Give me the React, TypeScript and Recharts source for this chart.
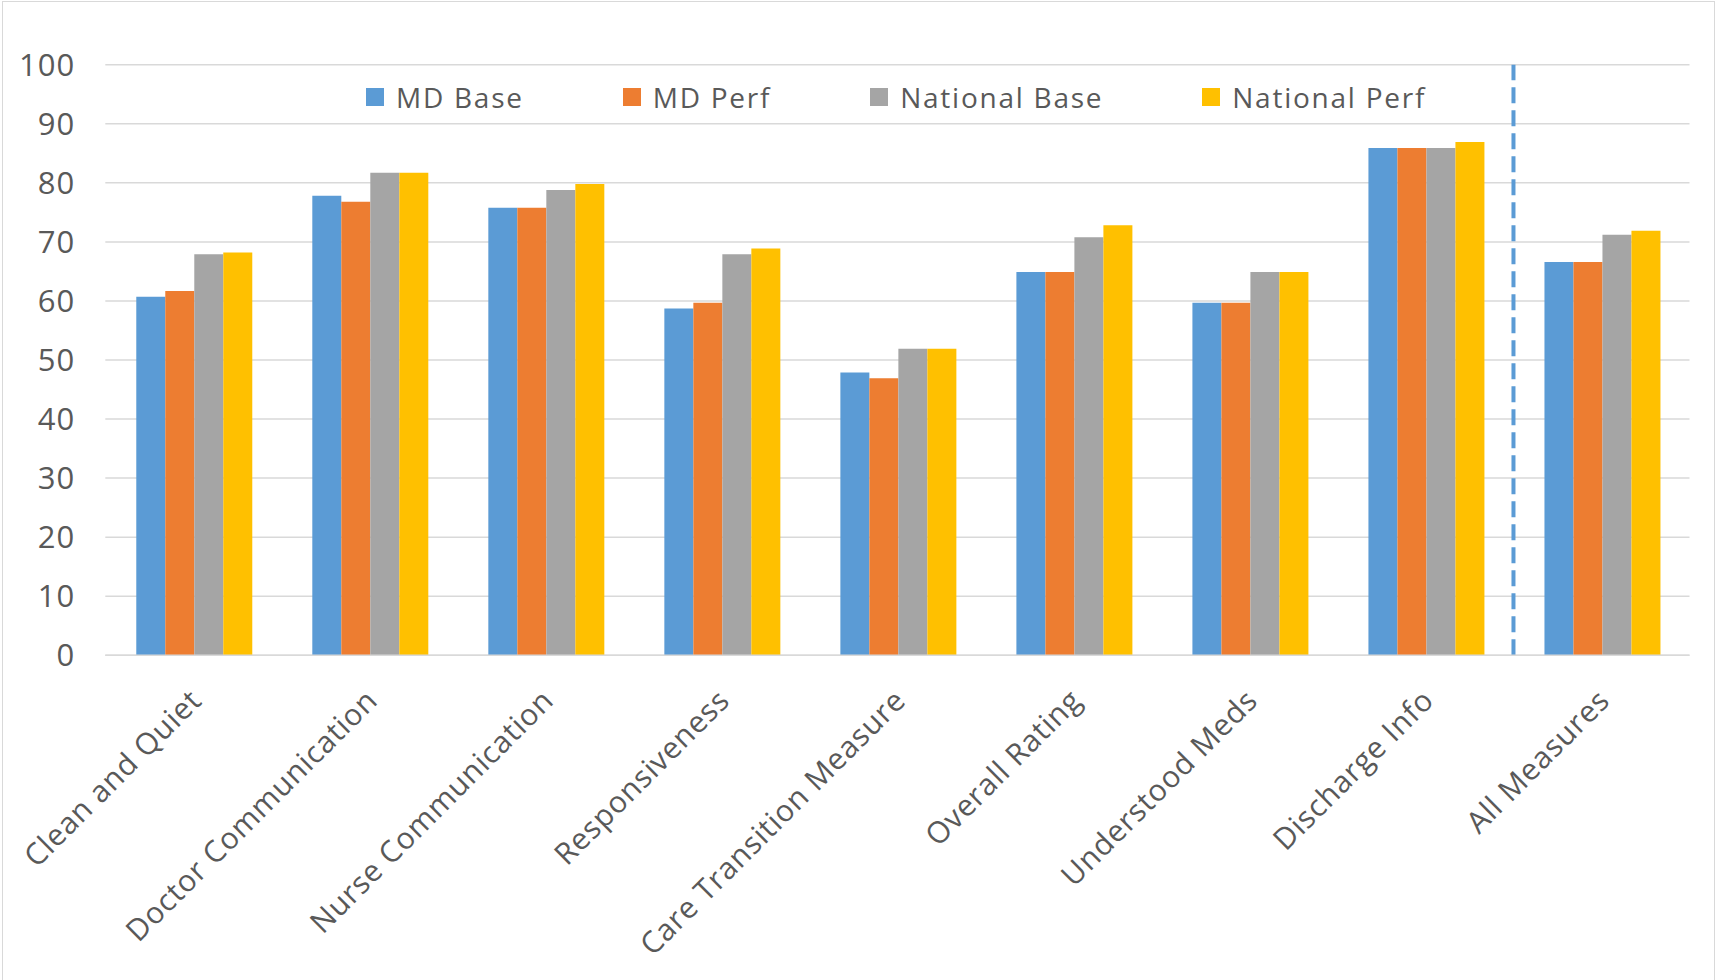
import React from 'react';
import { BarChart, Bar, XAxis, YAxis, CartesianGrid, Legend, ReferenceLine } from 'recharts';

const categories = [
  'Clean and Quiet',
  'Doctor Communication',
  'Nurse Communication',
  'Responsiveness',
  'Care Transition Measure',
  'Overall Rating',
  'Understood Meds',
  'Discharge Info',
  'All Measures',
];
const mdBase = [60.7, 77.8, 75.8, 58.7, 47.9, 64.9, 59.7, 85.9, 66.6];
const mdPerf = [61.7, 76.8, 75.8, 59.7, 46.9, 64.9, 59.7, 85.9, 66.6];
const nationalBase = [67.9, 81.7, 78.8, 67.9, 51.9, 70.8, 64.9, 85.9, 71.2];
const nationalPerf = [68.2, 81.7, 79.8, 68.9, 51.9, 72.8, 64.9, 86.9, 71.9];
const yTicks = [0, 10, 20, 30, 40, 50, 60, 70, 80, 90, 100];

const seriesNames = ['MD Base', 'MD Perf', 'National Base', 'National Perf'];
const seriesKeys = ['mdBase', 'mdPerf', 'nationalBase', 'nationalPerf'];
const seriesColors = ['#5B9BD5', '#ED7D31', '#A5A5A5', '#FFC000'];

const data = categories.map((c, i) => ({
  name: c,
  mdBase: mdBase[i],
  mdPerf: mdPerf[i],
  nationalBase: nationalBase[i],
  nationalPerf: nationalPerf[i],
}));

const FONT = "'Open Sans', sans-serif";
const TEXT = '#595959';

const XTick = (props: any) => {
  const { x, y, payload } = props;
  const ax = x + 10;
  const ay = y + 47;
  return (
    <text
      x={ax}
      y={ay}
      textAnchor="end"
      transform={`rotate(-45, ${ax}, ${ay})`}
      fill={TEXT}
      fontSize={30}
      fontFamily={FONT}
      letterSpacing={0.75}
    >
      {payload.value}
    </text>
  );
};

const LegendContent = () => (
  <div style={{ display: 'flex', alignItems: 'center', fontFamily: FONT, fontSize: 28, color: TEXT, letterSpacing: 1.75, lineHeight: '28px' }}>
    {seriesNames.map((n, i) => (
      <div key={n} style={{ display: 'flex', alignItems: 'center', marginRight: i < seriesNames.length - 1 ? 99 : 0 }}>
        <div style={{ width: 18, height: 18, background: seriesColors[i], marginRight: 12 }} />
        <span style={{ whiteSpace: 'nowrap' }}>{n}</span>
      </div>
    ))}
  </div>
);

export default function App() {
  return (
    <div style={{ position: 'absolute', left: 0, top: 0, width: 1715, height: 980, overflow: 'hidden', background: '#fff' }}>
      <div style={{ position: 'absolute', left: 2, top: 1, width: 1713, height: 1000, border: '1.5px solid #d9d9d9', boxSizing: 'border-box' }} />
      <div style={{ position: 'absolute', left: 0, top: 0 }}>
        <BarChart
          width={1715}
          height={980}
          data={data}
          margin={{ top: 64.7, right: 25.5, left: 0, bottom: 24.7 }}
          barCategoryGap="17.6%"
          barGap={0}
        >
          <CartesianGrid vertical={false} stroke="#d9d9d9" strokeWidth={1.5} />
          <XAxis
            dataKey="name"
            interval={0}
            height={300}
            tickLine={false}
            axisLine={{ stroke: '#d9d9d9', strokeWidth: 1.5 }}
            tickSize={0}
            tickMargin={0}
            tick={<XTick />}
          />
          <YAxis
            domain={[0, 100]}
            ticks={yTicks}
            width={105.3}
            axisLine={false}
            tickLine={false}
            tickSize={0}
            tickMargin={30}
            interval={0}
            tick={{ fill: TEXT, fontSize: 31, fontFamily: FONT, letterSpacing: 1 }}
          />
          {seriesKeys.map((k, i) => (
            <Bar key={k} dataKey={k} name={seriesNames[i]} fill={seriesColors[i]} isAnimationActive={false} />
          ))}
          <ReferenceLine
            x="All Measures"
            position="start"
            stroke="#5B9BD5"
            strokeWidth={4}
            strokeDasharray="16 7"
          />
          <Legend
            layout="horizontal"
            verticalAlign="middle"
            align="center"
            content={<LegendContent />}
            wrapperStyle={{ top: 83, left: 366, width: 1250, height: 30 }}
          />
        </BarChart>
      </div>
    </div>
  );
}
